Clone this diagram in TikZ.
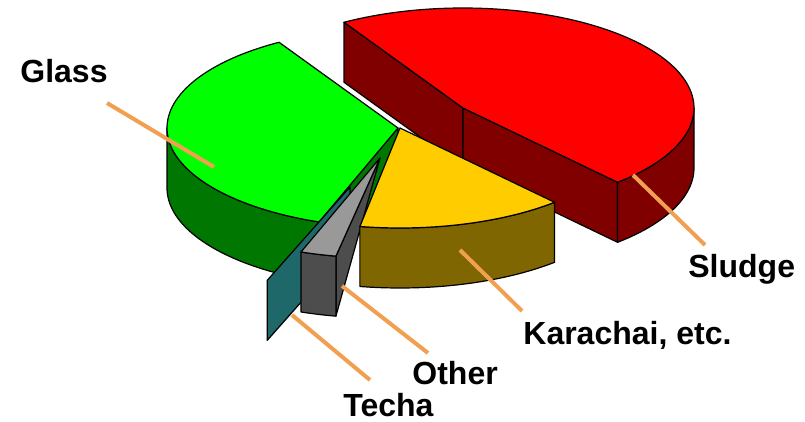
\documentclass[tikz,border=0pt]{standalone}
\usepackage{fontspec}
\setmainfont{Liberation Sans}
\usepackage{tikz}

\definecolor{sludgetop}{RGB}{255,0,0}
\definecolor{sludgeside}{RGB}{128,0,0}
\definecolor{glasstop}{RGB}{0,255,0}
\definecolor{glassside}{RGB}{0,119,0}
\definecolor{karatop}{RGB}{255,204,0}
\definecolor{karaside}{RGB}{128,102,0}
\definecolor{othertop}{RGB}{153,153,153}
\definecolor{otherside}{RGB}{77,77,77}
\definecolor{techaface}{RGB}{30,104,106}
\definecolor{leadorange}{RGB}{240,160,80}

\newcommand{\pierx}{231}
\newcommand{\piery}{100}
\newcommand{\piedepth}{60}

\begin{document}
\begin{tikzpicture}[x=0.5pt, y=-0.5pt]
        % Define slice styles
        \tikzstyle{slice} = [draw=black, line width=0.6pt, line join=round]
        \tikzstyle{leader} = [draw=leadorange, line width=2pt]
        \tikzstyle{slicelabel} = [anchor=base west, inner sep=0pt, font=\fontsize{16}{19}\selectfont\bfseries]

        \useasboundingbox (0,0) rectangle (805,422);

        % Sludge slice (pulled out)
        \begin{scope}[shift={(463,108)}]
            \filldraw[slice, fill=sludgeside] ({\pierx*cos(239)},{\piery*sin(239)}) -- (0,0) -- (0,\piedepth) -- ({\pierx*cos(239)},{\piery*sin(239)+\piedepth}) -- cycle;
            \filldraw[slice, fill=sludgeside] (0,0) -- ({\pierx*cos(48)},{\piery*sin(48)}) -- ({\pierx*cos(48)},{\piery*sin(48)+\piedepth}) -- (0,\piedepth) -- cycle;
            \filldraw[slice, fill=sludgeside] plot[domain=0:48, samples=40] ({\pierx*cos(\x)},{\piery*sin(\x)}) -- plot[domain=48:0, samples=40] ({\pierx*cos(\x)},{\piery*sin(\x)+\piedepth}) -- cycle;
            \filldraw[slice, fill=sludgetop] (0,0) -- plot[domain=-121:48, samples=90] ({\pierx*cos(\x)},{\piery*sin(\x)}) -- cycle;
        \end{scope}

        % Glass slice
        \begin{scope}[shift={(398,128)}]
            \filldraw[slice, fill=glassside] plot[domain=110:180, samples=40] ({\pierx*cos(\x)},{\piery*sin(\x)}) -- plot[domain=180:110, samples=40] ({\pierx*cos(\x)},{\piery*sin(\x)+\piedepth}) -- cycle;
            \filldraw[slice, fill=glassside] (0,0) -- ({\pierx*cos(110)},{\piery*sin(110)}) -- ({\pierx*cos(110)},{\piery*sin(110)+\piedepth}) -- (0,\piedepth) -- cycle;
            \filldraw[slice, fill=glasstop] (0,0) -- plot[domain=110:239, samples=70] ({\pierx*cos(\x)},{\piery*sin(\x)}) -- cycle;
        \end{scope}

        % Techa slice (thin sliver)
        \begin{scope}[shift={(350,187)}]
            \filldraw[slice, fill=techaface] (0,0) -- ({\pierx*cos(111)},{\piery*sin(111)}) -- ({\pierx*cos(111)},{\piery*sin(111)+\piedepth}) -- (0,\piedepth) -- cycle;
        \end{scope}

        % Other slice
        \begin{scope}[shift={(380,158)}]
            \filldraw[slice, fill=otherside] (0,0) -- ({\pierx*cos(101)},{\piery*sin(101)}) -- ({\pierx*cos(101)},{\piery*sin(101)+\piedepth}) -- cycle;
            \filldraw[slice, fill=otherside] plot[domain=101:110, samples=10] ({\pierx*cos(\x)},{\piery*sin(\x)}) -- plot[domain=110:101, samples=10] ({\pierx*cos(\x)},{\piery*sin(\x)+\piedepth}) -- cycle;
            \filldraw[slice, fill=othertop] (0,0) -- plot[domain=101:110, samples=10] ({\pierx*cos(\x)},{\piery*sin(\x)}) -- cycle;
        \end{scope}

        % Karachai slice
        \begin{scope}[shift={(400,128)}]
            \filldraw[slice, fill=karaside] plot[domain=48:100, samples=40] ({\pierx*cos(\x)},{\piery*sin(\x)}) -- plot[domain=100:48, samples=40] ({\pierx*cos(\x)},{\piery*sin(\x)+\piedepth}) -- cycle;
            \filldraw[slice, fill=karatop] (0,0) -- plot[domain=48:100, samples=40] ({\pierx*cos(\x)},{\piery*sin(\x)}) -- cycle;
        \end{scope}

        % Place labels
        \node[slicelabel] (glass) at (20,83) {Glass};
        \node[slicelabel] (sludge) at (688,278) {Sludge};
        \node[slicelabel] (karachai) at (523,345) {Karachai, etc.};
        \node[slicelabel] (other) at (412,385) {Other};
        \node[slicelabel] (techa) at (343,417) {Techa};

        % Leader line ends
        \coordinate (glass-in) at (214,167);
        \coordinate (glass-out) at (107,103);
        \coordinate (sludge-in) at (633,175);
        \coordinate (sludge-out) at (705,245);
        \coordinate (karachai-in) at (460,250);
        \coordinate (karachai-out) at (522,311);
        \coordinate (other-in) at (342,286);
        \coordinate (other-out) at (428,353);
        \coordinate (techa-in) at (292,315);
        \coordinate (techa-out) at (370,380);

        % Draw leader lines
        \draw[leader] (glass-out) -- (glass-in);
        \draw[leader] (sludge-in) -- (sludge-out);
        \draw[leader] (karachai-in) -- (karachai-out);
        \draw[leader] (other-in) -- (other-out);
        \draw[leader] (techa-in) -- (techa-out);
    \end{tikzpicture}
\end{document}
